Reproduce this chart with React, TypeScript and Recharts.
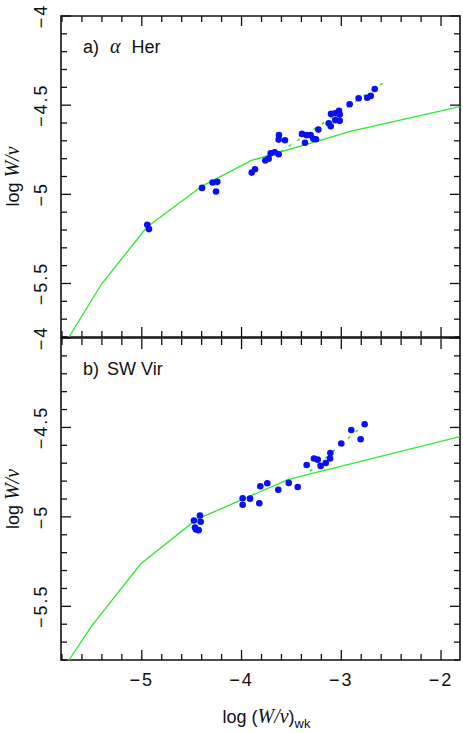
import React from "react";
import { ComposedChart, Scatter, XAxis, YAxis, ReferenceArea } from "recharts";

// axis setup (log W/nu vs log (W/nu)_wk)
const xDomain: [number, number] = [-5.81, -1.81];
const yDomain: [number, number] = [-5.8, -4];
const xTicks = [-5.8, -5.6, -5.4, -5.2, -5, -4.8, -4.6, -4.4, -4.2, -4, -3.8, -3.6, -3.4, -3.2, -3, -2.8, -2.6, -2.4, -2.2, -2];
const yTicks = [-5.8, -5.7, -5.6, -5.5, -5.4, -5.3, -5.2, -5.1, -5, -4.9, -4.8, -4.7, -4.6, -4.5, -4.4, -4.3, -4.2, -4.1, -4];
const xLabelTicks = [-5, -4, -3, -2];
const yLabelTicks = [-5.5, -5, -4.5, -4];

// a) alpha Her
const herPoints = [
  [-4.945, -5.171], [-4.928, -5.195], [-4.396, -4.964], [-4.29, -4.934], [-4.243, -4.93],
  [-4.256, -4.984], [-3.898, -4.878], [-3.865, -4.859], [-3.762, -4.81], [-3.728, -4.8],
  [-3.708, -4.77], [-3.668, -4.764], [-3.628, -4.775], [-3.625, -4.668], [-3.628, -4.693],
  [-3.565, -4.697], [-3.394, -4.661], [-3.348, -4.668], [-3.308, -4.668], [-3.364, -4.711],
  [-3.28, -4.689], [-3.254, -4.691], [-3.23, -4.637], [-3.126, -4.601], [-3.106, -4.618],
  [-3.103, -4.549], [-3.06, -4.545], [-3.023, -4.532], [-3.016, -4.553], [-3.06, -4.584],
  [-3.016, -4.588], [-2.916, -4.495], [-2.826, -4.461], [-2.74, -4.458], [-2.705, -4.448],
  [-2.665, -4.409],
];
const herModel = [[-5.73, -5.8], [-5.4, -5.5], [-4.95, -5.185], [-4.4, -4.955], [-3.9, -4.81], [-2.9, -4.645], [-1.81, -4.508]];
const herFit = [[-3.61, -4.762], [-2.58, -4.375]];

// b) SW Vir
const swPoints = [
  [-4.477, -5.02], [-4.417, -4.992], [-4.41, -5.027], [-4.467, -5.059], [-4.457, -5.07],
  [-4.43, -5.074], [-3.989, -4.896], [-3.989, -4.932], [-3.915, -4.898], [-3.822, -4.924],
  [-3.812, -4.829], [-3.742, -4.812], [-3.632, -4.848], [-3.527, -4.81], [-3.437, -4.833],
  [-3.347, -4.71], [-3.274, -4.674], [-3.237, -4.68], [-3.207, -4.715], [-3.156, -4.699],
  [-3.113, -4.674], [-3.11, -4.643], [-3.0, -4.59], [-2.9, -4.514], [-2.806, -4.566],
  [-2.766, -4.482],
];
const swModel = [[-5.73, -5.8], [-5.5, -5.608], [-5.01, -5.262], [-4.45, -5.014], [-3.53, -4.79], [-1.81, -4.551]];
const swFit = [[-3.314, -4.745], [-2.732, -4.465]];

const FONT = "'Liberation Sans', Arial, Helvetica, sans-serif";
const SERIF = "'Liberation Serif', 'Times New Roman', serif";
const INK = "#111";
const GREEN = "#2ee82e";
const BLUE = "#0a10f2";
const PLOT_W = 399;
const PLOT_H = 321;

const toXY = (arr: number[][]) => arr.map(([x, y]) => ({ x, y }));
const fmt = (v: number) => (v < 0 ? "\u2212" + String(Math.abs(v)) : String(v));
const isIn = (list: number[], v: number) => list.some((t) => Math.abs(t - v) < 1e-6);

function XTick(props: any) {
  const { x, y, payload, showLabels } = props;
  const v = payload.value;
  const major = isIn(xLabelTicks, v);
  const len = major ? 10 : 6;
  return (
    <g>
      <line x1={x} y1={y} x2={x} y2={y - len} stroke={INK} strokeWidth={1.3} />
      <line x1={x} y1={y - PLOT_H} x2={x} y2={y - PLOT_H + len} stroke={INK} strokeWidth={1.3} />
      {showLabels && major && (
        <text x={x} y={y + 26} textAnchor="middle" fontFamily={FONT} fontSize={18} letterSpacing={2} fill={INK}>
          {fmt(v)}
        </text>
      )}
    </g>
  );
}

function YTick(props: any) {
  const { x, y, payload } = props;
  const v = payload.value;
  const major = isIn(yLabelTicks, v);
  const len = major ? 10 : 6;
  const lx = x - 14;
  return (
    <g>
      <line x1={x} y1={y} x2={x + len} y2={y} stroke={INK} strokeWidth={1.3} />
      <line x1={x + PLOT_W} y1={y} x2={x + PLOT_W - len} y2={y} stroke={INK} strokeWidth={1.3} />
      {major && (
        <text x={lx} y={y} transform={`rotate(-90, ${lx}, ${y})`} textAnchor="middle" fontFamily={FONT}
          fontSize={18} letterSpacing={2} fill={INK}>
          {fmt(v)}
        </text>
      )}
    </g>
  );
}

function YTitle(props: any) {
  const vb = props.viewBox || { x: 60, y: 16, width: 1, height: PLOT_H };
  const tx = vb.x + vb.width - 42;
  const ty = vb.y + vb.height / 2;
  return (
    <text x={tx} y={ty} transform={`rotate(-90, ${tx}, ${ty})`} textAnchor="middle" fontFamily={FONT} fontSize={18} fill={INK}>
      log <tspan fontFamily={SERIF} fontStyle="italic" fontSize={20}>W</tspan>
      <tspan fontFamily={SERIF} fontStyle="italic" fontSize={20}>/ν</tspan>
    </text>
  );
}

function XTitle(props: any) {
  const vb = props.viewBox || { x: 61, y: 659, width: PLOT_W };
  const tx = vb.x + vb.width / 2 + 6;
  const ty = vb.y + 63;
  return (
    <text x={tx} y={ty} textAnchor="middle" fontFamily={FONT} fontSize={18} fill={INK}>
      log (<tspan fontFamily={SERIF} fontStyle="italic" fontSize={20}>W</tspan>
      <tspan fontFamily={SERIF} fontStyle="italic" fontSize={20}>/ν</tspan>)
      <tspan fontSize={13} dy={5}>wk</tspan>
    </text>
  );
}

const Dot = (p: any) => <circle cx={p.cx} cy={p.cy} r={3.3} fill={BLUE} />;
const NoShape = () => <g />;

function Panel({ points, model, fit, label, italicPart, rest, last }: any) {
  const height = last ? 412 : 338;
  return (
    <ComposedChart width={463} height={height} margin={{ top: 16, right: 3, bottom: last ? 73 : 0, left: 60 }}>
      <XAxis xAxisId="b" type="number" dataKey="x" domain={xDomain} ticks={xTicks} interval={0} allowDataOverflow
        height={1} tickSize={0} tickMargin={0} axisLine={false} tickLine={false}
        tick={<XTick showLabels={last} />} label={last ? <XTitle /> : undefined} />
      <YAxis yAxisId="l" type="number" dataKey="y" domain={yDomain} ticks={yTicks} interval={0} allowDataOverflow
        width={1} tickSize={0} tickMargin={0} axisLine={false} tickLine={false}
        tick={<YTick />} label={<YTitle />} />
      <ReferenceArea xAxisId="b" yAxisId="l" x1={xDomain[0]} x2={xDomain[1]} y1={yDomain[0]} y2={yDomain[1]}
        fill="none" stroke={INK} strokeWidth={1.6} fillOpacity={0} ifOverflow="visible" />
      <Scatter xAxisId="b" yAxisId="l" data={toXY(model)} shape={NoShape} line={{ stroke: GREEN, strokeWidth: 1.3 }}
        isAnimationActive={false} legendType="none" />
      <Scatter xAxisId="b" yAxisId="l" data={toXY(fit)} shape={NoShape}
        line={{ stroke: GREEN, strokeWidth: 1.5, strokeDasharray: "3 7" }} isAnimationActive={false} legendType="none" />
      <Scatter xAxisId="b" yAxisId="l" data={toXY(points)} shape={Dot} isAnimationActive={false} legendType="none" />
      <text x={83} y={53} fontFamily={FONT} fontSize={18} fill={INK} style={{ whiteSpace: "pre" }}>
        {label}
        {italicPart && <tspan fontFamily={SERIF} fontStyle="italic" fontSize={20} dx={11}>{italicPart}</tspan>}
        <tspan dx={italicPart ? 11 : 8}>{rest}</tspan>
      </text>
    </ComposedChart>
  );
}

export default function App() {
  return (
    <div style={{ position: "absolute", left: 0, top: 0, width: 463, height: 733, background: "#fff" }}>
      <div style={{ position: "absolute", left: 0, top: 0 }}>
        <Panel points={herPoints} model={herModel} fit={herFit} label="a)" italicPart="α" rest="Her" last={false} />
      </div>
      <div style={{ position: "absolute", left: 0, top: 322 }}>
        <Panel points={swPoints} model={swModel} fit={swFit} label="b)" italicPart={null} rest="SW Vir" last={true} />
      </div>
    </div>
  );
}
